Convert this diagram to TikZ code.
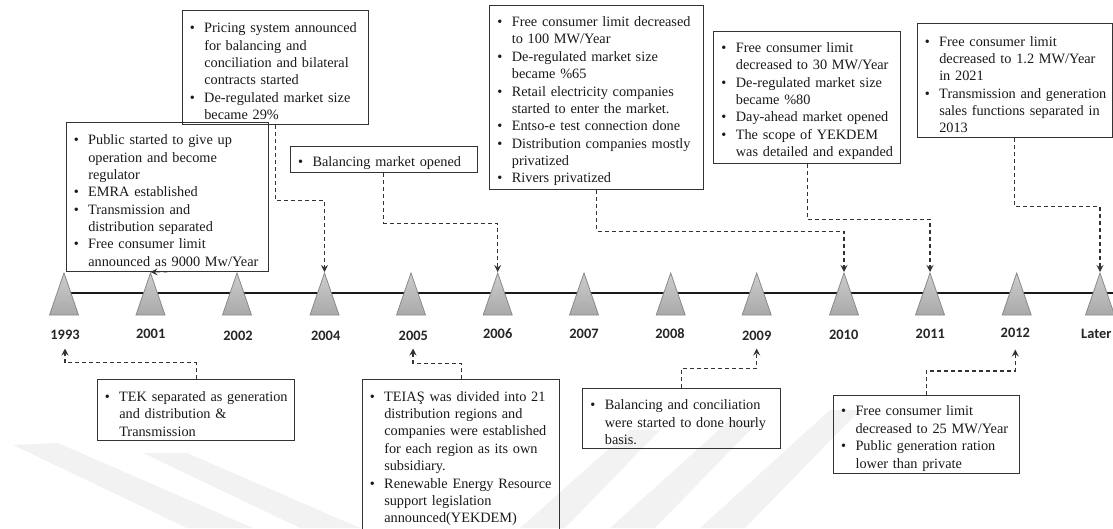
\documentclass[tikz,border=0pt]{standalone}
\usepackage{fontspec}
\setmainfont{Liberation Serif}
\newfontfamily\yearfont{Carlito}
\usetikzlibrary{arrows.meta}
\newlength\hw \setlength\hw{16pt}
\newcommand\bi[1]{\par\noindent\makebox[\hw][l]{\hspace{1.5pt}\textbullet}\mbox{#1}\par}
\newcommand\bc[1]{\par\noindent\hspace*{\hw}\mbox{#1}\par}
\newcommand\boxfont{\fontsize{14.3}{17.35}\selectfont}
\definecolor{wm}{HTML}{F2F2F2}
\definecolor{trifill1}{HTML}{CDCDCD}
\definecolor{trifill2}{HTML}{A9A9A9}
\definecolor{triedge}{HTML}{8A8A8A}
\begin{document}
\begin{tikzpicture}[x=1pt,y=-1pt,
  evbox/.style={draw=black!80, line width=1.1pt, anchor=north west, inner xsep=6pt, inner ysep=0pt,
     align=left, font=\boxfont, text=black!90},
  yr/.style={font=\yearfont\bfseries\fontsize{14.4}{16}\selectfont, text=black!85, inner sep=0pt},
  conn/.style={draw=black!80, line width=1.1pt, dash pattern=on 4pt off 3pt,
     -{Stealth[length=7pt,width=7pt,inset=2.5pt]}},
  tri/.style={draw=triedge, line width=0.8pt, top color=trifill1, bottom color=trifill2}]
\useasboundingbox (0,0) rectangle (1113,528);
\clip (0,0) rectangle (1113,528);
% faint watermark
\fill[wm] (13,445) -- (58,443) -- (253,528) -- (187,528) -- cycle;
\fill[wm] (143,453) -- (187,453) -- (360,528) -- (300,528) -- cycle;
\fill[wm] (520,528) -- (565,528) -- (660,430) -- (630,430) -- cycle;
\fill[wm] (610,528) -- (655,528) -- (760,420) -- (730,420) -- cycle;
\fill[wm] (700,528) -- (745,528) -- (860,410) -- (830,410) -- cycle;
% timeline
\draw[line width=2.6pt, black!90] (64,293) -- (1113,293);
\foreach \n/\x in {1993/64, 2001/150.5, 2002/237, 2004/324.5, 2005/411, 2006/497.7, 2007/584,
                   2008/670.7, 2009/756.7, 2010/844, 2011/930, 2012/1016.7, L/1100}{
  \draw[tri] (\x-14.5,315) -- (\x,273) -- (\x+14.5,315) -- cycle;
  \coordinate (t\n) at (\x,272);
}
% year labels
\node[yr] (y1993) at (65,335) {1993};
\node[yr] (y2001) at (150.7,334) {2001};
\node[yr] (y2002) at (238,336) {2002};
\node[yr] (y2004) at (325.7,336) {2004};
\node[yr] (y2005) at (413.3,336) {2005};
\node[yr] (y2006) at (497.7,334) {2006};
\node[yr] (y2007) at (584,334) {2007};
\node[yr] (y2008) at (670,334) {2008};
\node[yr] (y2009) at (756.7,336) {2009};
\node[yr] (y2010) at (843.7,335) {2010};
\node[yr] (y2011) at (930.3,334) {2011};
\node[yr] (y2012) at (1015.3,333) {2012};
\node[yr] (yL) at (1096.3,334) {Later};
\coordinate (a1993) at (65,348.5);
\coordinate (a2005) at (413,348.5);
\coordinate (a2009) at (756.7,348.5);
\coordinate (a2012) at (1015.3,349.5);
% top boxes
\node[evbox, text width=174pt, minimum width=186pt, minimum height=114pt] (B) at (181.7,10) {%
\bi{Pricing system announced}\bc{for balancing and}\bc{conciliation and bilateral}\bc{contracts started}%
\bi{De-regulated market size}\bc{became 29\%}};
\node[evbox, text width=190pt, minimum width=202pt, minimum height=148.7pt] (A) at (65.7,122) {%
\bi{Public started to give up}\bc{operation and become}\bc{regulator}%
\bi{EMRA established}%
\bi{Transmission and}\bc{distribution separated}%
\bi{Free consumer limit}\bc{announced as 9000 Mw/Year}};
\node[evbox, text width=174.7pt, minimum width=186.7pt, minimum height=26.6pt] (C) at (290,145.7) {%
\bi{Balancing market opened}};
\node[evbox, text width=201.4pt, minimum width=213.4pt, minimum height=184pt] (D) at (489.3,5) {%
\bi{Free consumer limit decreased}\bc{to 100 MW/Year}%
\bi{De-regulated market size}\bc{became \%65}%
\bi{Retail electricity companies}\bc{started to enter the market.}%
\bi{Entso-e test connection done}%
\bi{Distribution companies mostly}\bc{privatized}%
\bi{Rivers privatized}};
\node[evbox, text width=174.7pt, minimum width=186.7pt, minimum height=131.7pt] (E) at (713.3,31) {%
\bi{Free consumer limit}\bc{decreased to 30 MW/Year}%
\bi{De-regulated market size}\bc{became \%80}%
\bi{Day-ahead market opened}%
\bi{The scope of YEKDEM}\bc{was detailed and expanded}};
\node[evbox, text width=182.8pt, minimum width=194.8pt, minimum height=114pt] (F) at (916.7,23.3) {%
\bi{Free consumer limit}\bc{decreased to 1.2 MW/Year}\bc{in 2021}%
\bi{Transmission and generation}\bc{sales functions separated in}\bc{2013}};
% bottom boxes
\node[evbox, text width=185.6pt, minimum width=197.6pt, minimum height=61pt] (G) at (96.7,379) {%
\bi{TEK separated as generation}\bc{and distribution \&}\bc{Transmission}};
\node[evbox, text width=185.6pt, minimum width=197.6pt, minimum height=150pt] (H) at (361.7,379.3) {%
\bi{TEIAŞ was divided into 21}\bc{distribution regions and}\bc{companies were established}%
\bc{for each region as its own}\bc{subsidiary.}%
\bi{Renewable Energy Resource}\bc{support legislation}\bc{announced(YEKDEM)}};
\node[evbox, text width=185.4pt, minimum width=197.4pt, minimum height=60.6pt] (I) at (582.3,387.7) {%
\bi{Balancing and conciliation}\bc{were started to done hourly}\bc{basis.}};
\node[evbox, text width=173.7pt, minimum width=185.7pt, minimum height=78pt] (J) at (833,395.3) {%
\bi{Free consumer limit}\bc{decreased to 25 MW/Year}%
\bi{Public generation ration}\bc{lower than private}};
% connectors
\draw[conn] (A.south) -- (t2001);
\draw[conn] (B.south) -- ++(0,75) -| (t2004);
\draw[conn] (C.south) -- ++(0,50) -| (t2006);
\draw[conn] (D.south) -- ++(0,41) -| (t2010);
\draw[conn] (E.south) -- ++(0,55.6) -| (t2011);
\draw[conn] (F.south) -- ++(0,68.4) -| (tL);
\draw[conn] (G.north) -- ++(0,-16.3) -| (a1993);
\draw[conn] (H.north) -- ++(0,-16) -| (a2005);
\draw[conn] (I.north) -- ++(0,-19.4) -| (a2009);
\draw[conn] (J.north) -- ++(0,-24.3) -| (a2012);
\end{tikzpicture}
\end{document}
